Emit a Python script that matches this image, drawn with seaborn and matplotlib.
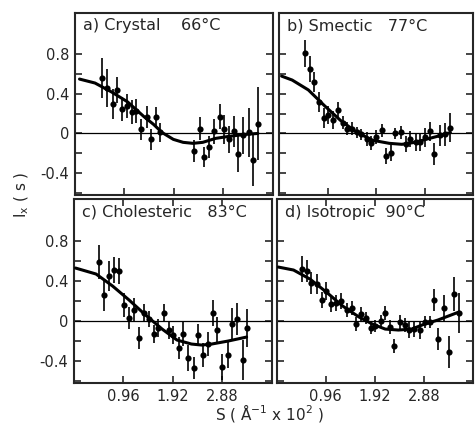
import seaborn as sns
import matplotlib.pyplot as plt
import numpy as np

# panel a) Crystal 66 C
a_x = [0.53, 0.63, 0.73, 0.81, 0.92, 1.01, 1.10, 1.18, 1.29, 1.40, 1.47, 1.57, 1.66,
       2.32, 2.43, 2.51, 2.60, 2.70, 2.81, 2.90, 2.99, 3.08, 3.17, 3.27, 3.37, 3.45, 3.56]
a_y = [0.56, 0.46, 0.30, 0.44, 0.25, 0.28, 0.22, 0.23, 0.04, 0.17, -0.06, 0.17, 0.01,
       -0.18, 0.05, -0.24, -0.14, 0.02, 0.17, 0.04, -0.06, 0.02, -0.21, -0.02, 0.01, -0.27, 0.10]
a_err = [0.20, 0.19, 0.15, 0.13, 0.12, 0.12, 0.12, 0.12, 0.11, 0.11, 0.11, 0.10, 0.10,
         0.11, 0.12, 0.10, 0.11, 0.13, 0.13, 0.15, 0.14, 0.16, 0.18, 0.19, 0.25, 0.26, 0.37]
a_fit_x = [0.09, 0.39, 0.71, 1.02, 1.34, 1.53, 1.69, 1.91, 2.10, 2.29, 2.48, 2.73, 2.98, 3.30, 3.55]
a_fit_y = [0.55, 0.51, 0.42, 0.32, 0.17, 0.09, 0.01, -0.06, -0.09, -0.10, -0.09, -0.05, -0.03, -0.01, 0.0]

# panel b) Smectic 77 C
b_x = [0.51, 0.61, 0.70, 0.79, 0.88, 0.97, 1.07, 1.17, 1.26, 1.34, 1.44, 1.54, 1.63, 1.73, 1.82, 1.92,
       2.03, 2.11, 2.21, 2.30, 2.41, 2.51, 2.60, 2.70, 2.78, 2.88, 2.98, 3.07, 3.18, 3.28, 3.38]
b_y = [0.81, 0.65, 0.52, 0.32, 0.16, 0.19, 0.14, 0.24, 0.11, 0.05, 0.05, 0.01, -0.01, -0.06, -0.10, -0.04,
       0.03, -0.23, -0.20, 0.0, 0.01, -0.11, -0.06, -0.09, -0.09, -0.04, 0.02, -0.21, -0.02, -0.01, 0.06]
b_err = [0.14, 0.13, 0.10, 0.10, 0.10, 0.09, 0.09, 0.08, 0.07, 0.07, 0.07, 0.06, 0.06, 0.07, 0.07, 0.07,
         0.07, 0.08, 0.08, 0.06, 0.07, 0.08, 0.08, 0.09, 0.09, 0.10, 0.10, 0.11, 0.11, 0.12, 0.15]
b_fit_x = [0.05, 0.26, 0.58, 0.90, 1.22, 1.54, 1.86, 2.18, 2.43, 2.69, 2.94, 3.20, 3.39]
b_fit_y = [0.58, 0.54, 0.44, 0.28, 0.13, 0.01, -0.07, -0.10, -0.11, -0.09, -0.055, -0.02, 0.01]

# panel c) Cholesteric 83 C
c_x = [0.49, 0.59, 0.68, 0.78, 0.88, 0.97, 1.07, 1.16, 1.26, 1.36, 1.45, 1.56, 1.64, 1.74, 1.84, 1.93,
       2.03, 2.12, 2.22, 2.32, 2.41, 2.51, 2.60, 2.70, 2.78, 2.87, 2.98, 3.07, 3.16, 3.28, 3.36]
c_y = [0.59, 0.26, 0.45, 0.51, 0.50, 0.16, 0.03, 0.11, -0.17, 0.08, 0.02, -0.13, -0.07, 0.08, -0.09, -0.14,
       -0.27, -0.13, -0.37, -0.47, -0.14, -0.34, -0.23, 0.08, -0.09, -0.46, -0.34, -0.03, 0.02, -0.39, -0.07]
c_err = [0.17, 0.16, 0.15, 0.13, 0.13, 0.12, 0.11, 0.12, 0.11, 0.09, 0.08, 0.09, 0.09, 0.09, 0.09, 0.09,
         0.11, 0.12, 0.13, 0.11, 0.11, 0.12, 0.12, 0.13, 0.13, 0.13, 0.13, 0.16, 0.16, 0.20, 0.19]
c_fit_x = [0.03, 0.43, 0.75, 1.07, 1.39, 1.71, 2.00, 2.28, 2.48, 2.67, 2.99, 3.35]
c_fit_y = [0.53, 0.47, 0.35, 0.21, 0.06, -0.08, -0.19, -0.23, -0.24, -0.23, -0.20, -0.16]

# panel d) Isotropic 90 C
d_x = [0.49, 0.59, 0.68, 0.78, 0.88, 0.97, 1.07, 1.16, 1.26, 1.37, 1.47, 1.55, 1.64, 1.74, 1.84, 1.93, 2.03,
       2.11, 2.22, 2.30, 2.41, 2.50, 2.59, 2.69, 2.80, 2.89, 2.99, 3.08, 3.16, 3.26, 3.36, 3.47, 3.56]
d_y = [0.52, 0.50, 0.38, 0.37, 0.21, 0.30, 0.17, 0.18, 0.20, 0.11, 0.13, -0.03, 0.07, 0.03, -0.07, -0.05, 0.0,
       0.08, -0.06, -0.25, -0.01, -0.04, -0.09, -0.08, -0.09, -0.01, -0.01, 0.21, -0.18, 0.13, -0.31, 0.27, 0.08]
d_err = [0.13, 0.11, 0.11, 0.10, 0.08, 0.09, 0.08, 0.08, 0.08, 0.07, 0.07, 0.07, 0.07, 0.06, 0.06, 0.06, 0.06,
         0.07, 0.07, 0.07, 0.07, 0.07, 0.08, 0.08, 0.09, 0.06, 0.06, 0.11, 0.11, 0.13, 0.16, 0.17, 0.20]
d_fit_x = [0.03, 0.33, 0.65, 0.97, 1.29, 1.61, 1.87, 2.12, 2.38, 2.64, 2.89, 3.15, 3.56]
d_fit_y = [0.54, 0.51, 0.42, 0.29, 0.15, 0.04, -0.03, -0.08, -0.09, -0.08, -0.03, 0.01, 0.09]

titles = ["a) Crystal    66\u00b0C", "b) Smectic   77\u00b0C",
          "c) Cholesteric   83\u00b0C", "d) Isotropic  90\u00b0C"]
x_ticks = [0.96, 1.92, 2.88]
x_ticklabels = ["0.96", "1.92", "2.88"]
y_ticks = [-0.6, -0.4, -0.2, 0.0, 0.2, 0.4, 0.6, 0.8]
y_ticklabels = ["", "-0.4", "", "0", "", "0.4", "", "0.8"]

panels = [(a_x, a_y, a_err, a_fit_x, a_fit_y),
          (b_x, b_y, b_err, b_fit_x, b_fit_y),
          (c_x, c_y, c_err, c_fit_x, c_fit_y),
          (d_x, d_y, d_err, d_fit_x, d_fit_y)]

sns.set_style("ticks")
plt.rcParams['font.family'] = ['DejaVu Sans']
plt.rcParams['xtick.direction'] = 'in'
plt.rcParams['ytick.direction'] = 'in'

fig = plt.figure(figsize=(4.77, 4.28), dpi=100)
boxes = [[0.157, 0.545, 0.415, 0.425],
         [0.585, 0.545, 0.407, 0.425],
         [0.155, 0.105, 0.415, 0.43],
         [0.580, 0.105, 0.412, 0.43]]

for i, (px, py, pe, fx, fy) in enumerate(panels):
    ax = fig.add_axes(boxes[i])
    ax.axhline(0, color='black', lw=0.9, zorder=1)
    ax.errorbar(px, py, yerr=pe, fmt='none', ecolor='black', elinewidth=1.2, capsize=0, zorder=2)
    sns.scatterplot(x=px, y=py, ax=ax, color='black', s=20, edgecolor='black', linewidth=0, zorder=3)
    sns.lineplot(x=fx, y=fy, ax=ax, color='black', lw=2.2, sort=False, zorder=4)
    ax.set_xlim(0, 3.84)
    ax.set_ylim(-0.62, 1.22)
    ax.set_xticks(x_ticks)
    ax.set_yticks(y_ticks)
    if i >= 2:
        ax.set_xticklabels(x_ticklabels, fontsize=10.5)
        ax.tick_params(axis='x', top=True)
    else:
        ax.set_xticklabels([])
    if i % 2 == 0:
        ax.set_yticklabels(y_ticklabels, fontsize=10.5)
    else:
        ax.set_yticklabels([])
    ax.tick_params(axis='y', right=True)
    ax.tick_params(length=5, width=1.2, pad=4)
    for sp in ax.spines.values():
        sp.set_linewidth(1.5)
    ax.text(0.04, 0.97, titles[i], transform=ax.transAxes, ha='left', va='top', fontsize=11.5)

fig.text(0.045, 0.545, "I$_\\mathregular{x}$ ( s )", rotation=90, ha='center', va='center', fontsize=11)
fig.text(0.566, 0.034, "S ( \u00c5$^{-1}$ x 10$^2$ )", ha='center', va='center', fontsize=11)

fig.savefig("out.png", dpi=100)
